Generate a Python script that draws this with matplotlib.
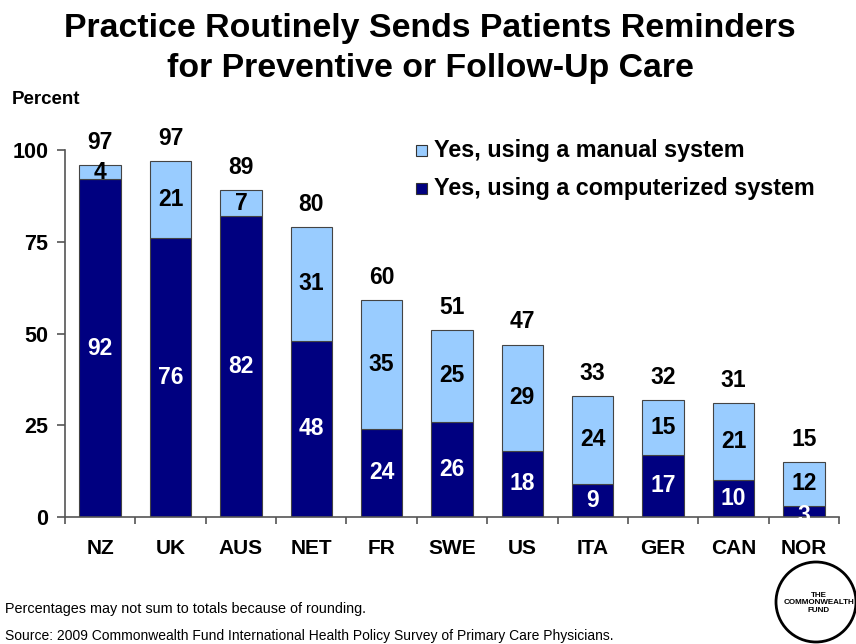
import matplotlib
matplotlib.use("Agg")
import matplotlib.pyplot as plt
from matplotlib.patches import Circle, Rectangle

plt.rcParams['font.family'] = ['Liberation Sans', 'DejaVu Sans']

countries = ["NZ", "UK", "AUS", "NET", "FR", "SWE", "US", "ITA", "GER", "CAN", "NOR"]
computerized = [92, 76, 82, 48, 24, 26, 18, 9, 17, 10, 3]
manual = [4, 21, 7, 31, 35, 25, 29, 24, 15, 21, 12]
totals = [97, 97, 89, 80, 60, 51, 47, 33, 32, 31, 15]
yticks = [0, 25, 50, 75, 100]

dark = "#000080"
light = "#99CCFF"

fig = plt.figure(figsize=(8.56, 6.44), dpi=100)
ax = fig.add_axes([65/856, (644-517)/644, (839-65)/856, (517-150)/644])

x = list(range(len(countries)))
w = 0.59
ax.bar(x, computerized, w, color=dark, edgecolor="#444444", linewidth=0.8,
       label="Yes, using a computerized system")
ax.bar(x, manual, w, bottom=computerized, color=light, edgecolor="#444444",
       linewidth=0.8, label="Yes, using a manual system")

for i in x:
    c, m, t = computerized[i], manual[i], totals[i]
    ax.text(i, c / 2 if c > 5 else c / 2 - 1.0, str(c), ha="center", va="center",
            color="white", fontsize=16.5, fontweight="bold")
    ax.text(i, c + m / 2, str(m), ha="center", va="center",
            color="black", fontsize=16.5, fontweight="bold")
    ax.text(i, c + m + 3.0, str(t), ha="center", va="bottom",
            color="black", fontsize=16.5, fontweight="bold")

ax.set_xlim(-0.5, len(countries) - 0.5)
ax.set_ylim(0, 100)
ax.set_yticks(yticks)
ax.set_yticklabels([str(v) for v in yticks], fontsize=15.5, fontweight="bold")
ax.set_xticks(x)
ax.set_xticklabels(countries, fontsize=15, fontweight="bold")
ax.set_xticks([i - 0.5 for i in range(len(countries) + 1)], minor=True)
ax.tick_params(axis="x", which="major", length=0, pad=16)
ax.tick_params(axis="x", which="minor", length=5, width=1.2, color="#555555",
               direction="out")
ax.tick_params(axis="y", length=6, width=1.2, color="#555555", pad=6, direction="out")
for s in ["top", "right"]:
    ax.spines[s].set_visible(False)
ax.spines["left"].set_color("#555555")
ax.spines["bottom"].set_color("#555555")
ax.spines["left"].set_linewidth(1.2)
ax.spines["bottom"].set_linewidth(1.2)

# legend (manual)
for yy, col, lab in [(150, light, "Yes, using a manual system"),
                     (189, dark, "Yes, using a computerized system")]:
    fig.patches.append(Rectangle((416/856, (644-yy-5.5)/644), 11/856, 11/644,
                                 transform=fig.transFigure, facecolor=col,
                                 edgecolor="#333333", linewidth=0.8))
    fig.text(434/856, (644-yy)/644, lab, fontsize=16.8, fontweight="bold",
             va="center", ha="left")

fig.text(430/856, (644-28)/644, "Practice Routinely Sends Patients Reminders",
         fontsize=24.4, fontweight="bold", ha="center", va="center")
fig.text(430/856, (644-68)/644, "for Preventive or Follow-Up Care",
         fontsize=24.4, fontweight="bold", ha="center", va="center")
fig.text(12/856, (644-100)/644, "Percent", fontsize=13.5, fontweight="bold",
         ha="left", va="center")

fig.text(5/856, (644-609)/644, "Percentages may not sum to totals because of rounding.",
         fontsize=10.4, ha="left", va="center")
fig.text(5/856, (644-636)/644,
         "Source: 2009 Commonwealth Fund International Health Policy Survey of Primary Care Physicians.",
         fontsize=10.0, ha="left", va="center")

# logo
logo_ax = fig.add_axes([772/856, 0, 84/856, 97/644])
logo_ax.set_xlim(0, 84)
logo_ax.set_ylim(0, 97)
logo_ax.set_aspect("equal")
logo_ax.axis("off")
logo_ax.add_patch(Circle((44, 42), 40, fill=False, edgecolor="black", linewidth=2,
                         clip_on=False))
logo_ax.text(47, 41, "THE\nCOMMONWEALTH\nFUND", fontsize=5.8, fontweight="bold",
             ha="center", va="center", linespacing=1.1, clip_on=False)

fig.savefig("out.png", dpi=100)
